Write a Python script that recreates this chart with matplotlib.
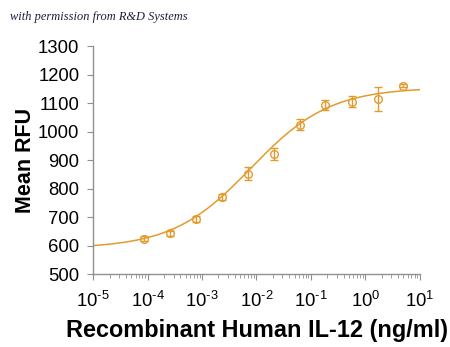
import matplotlib as mpl

mpl.use("Agg")

import matplotlib.pyplot as plt
import numpy as np
from matplotlib.ticker import FuncFormatter, LogLocator, NullFormatter

# dose (ng/ml), mean RFU and error
conc = [8.5e-5, 2.55e-4, 7.6e-4, 2.29e-3, 6.86e-3, 2.06e-2, 6.17e-2, 0.185, 0.556, 1.67, 5.0]
rfu = [625, 643, 694, 770, 853, 921, 1025, 1093, 1105, 1114, 1161]
err = [8, 8, 11, 10, 23, 20, 19, 17, 19, 41, 5]

# 4PL fit parameters
BOTTOM, TOP, LOG_EC50, HILL = 590, 1155, -2.1, 0.6

ORANGE = "#E39B2E"
AXIS = "#909090"

plt.rcParams["font.family"] = ["Liberation Sans", "DejaVu Sans"]
plt.rcParams["mathtext.fontset"] = "custom"
plt.rcParams["mathtext.rm"] = "Liberation Sans"
plt.rcParams["mathtext.it"] = "Liberation Sans:italic"


def decade(v, pos):
    return r"$10^{\text{%d}}$" % round(np.log10(v))


fig = plt.figure(figsize=(4.5, 3.47), dpi=100)
ax = fig.add_axes([0.207, 0.21, 0.726, 0.657])

xs = np.logspace(-5, 1, 300)
ys = BOTTOM + (TOP - BOTTOM) / (1 + (10 ** LOG_EC50 / xs) ** HILL)
ax.plot(xs, ys, color=ORANGE, lw=1.1)
ax.errorbar(conc, rfu, yerr=err, fmt="o", mfc="none", mec=ORANGE, ms=5.5, mew=1.0,
            ecolor=ORANGE, elinewidth=1.0, capsize=2.8, capthick=1.0)

ax.set_xscale("log")
ax.set_xlim(1e-5, 10)
ax.set_ylim(500, 1300)
ax.set_yticks(range(500, 1301, 100))
ax.xaxis.set_major_locator(LogLocator(base=10, numticks=10))
ax.xaxis.set_major_formatter(FuncFormatter(decade))
ax.xaxis.set_minor_locator(LogLocator(base=10, subs=np.arange(2, 10), numticks=20))
ax.xaxis.set_minor_formatter(NullFormatter())

for side in ("top", "right"):
    ax.spines[side].set_visible(False)
for side in ("left", "bottom"):
    ax.spines[side].set_color(AXIS)
    ax.spines[side].set_linewidth(1.0)
ax.tick_params(axis="both", which="both", direction="out", color=AXIS, labelsize=13.3, labelcolor="black")
ax.tick_params(axis="y", length=4, pad=6)
ax.tick_params(axis="x", which="major", length=4, pad=8)
ax.tick_params(axis="x", which="minor", length=3)

ax.set_ylabel("Mean RFU", fontsize=15.5, fontweight="bold", labelpad=1)
ax.set_xlabel("Recombinant Human IL-12 (ng/ml)", fontsize=16.9, fontweight="bold", labelpad=6)

fig.text(0.022, 0.951, "with permission from R&D Systems", fontsize=8.9, style="italic",
         family=["Liberation Serif", "DejaVu Serif"], color="#1a1f3a", ha="left", va="center")

fig.savefig("out.png", dpi=100, facecolor="white")
